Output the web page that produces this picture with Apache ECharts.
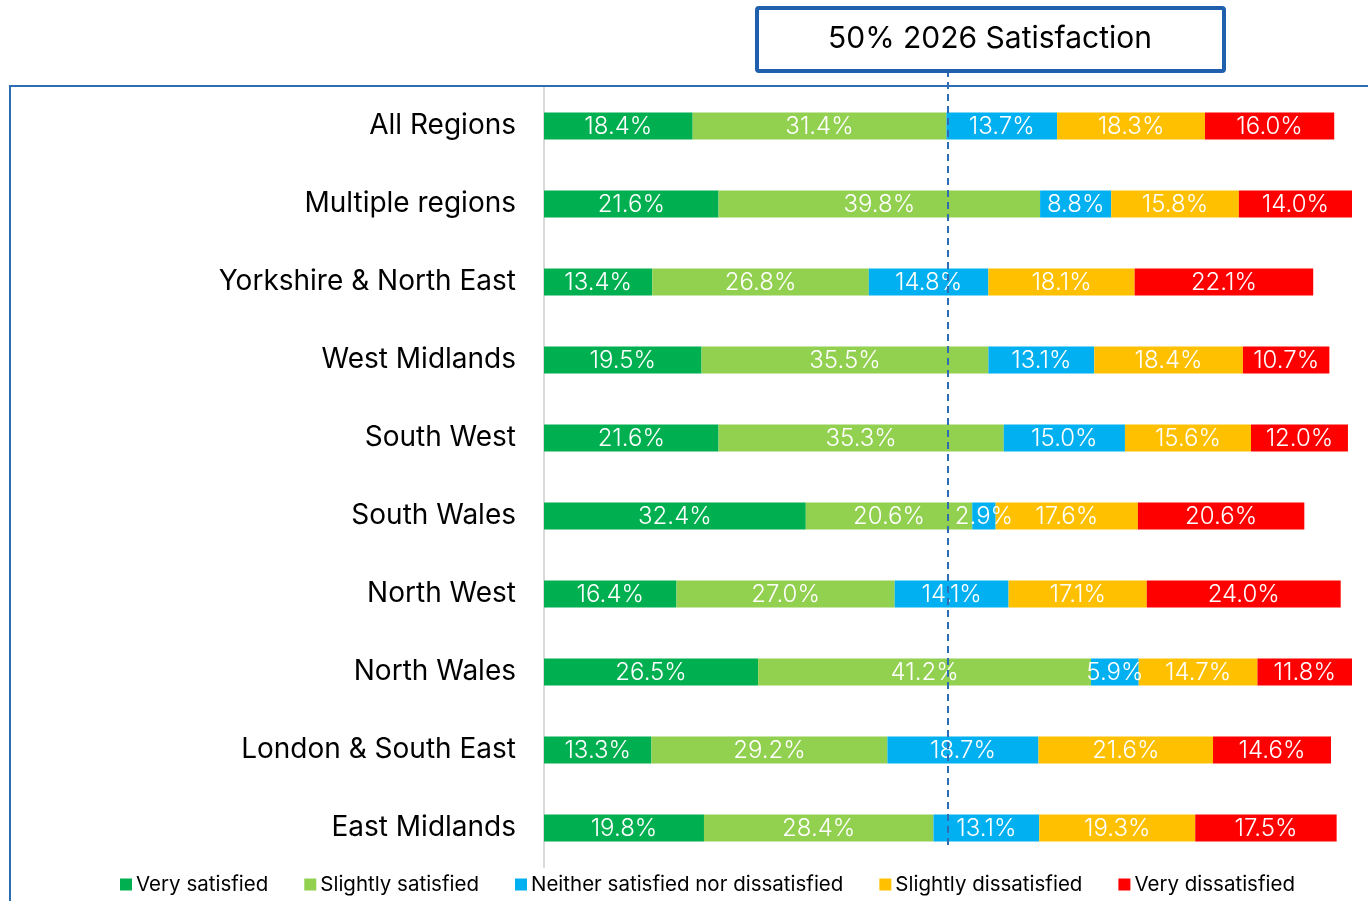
<!DOCTYPE html>
<html>
<head>
<meta charset="utf-8">
<script src="https://cdn.jsdelivr.net/npm/echarts@6/dist/echarts.min.js"></script>
<style>
  html, body { margin: 0; padding: 0; background: #fff; }
  #chart { width: 1368px; height: 901px; }
</style>
</head>
<body>
<div id="chart"></div>
<script>
const regions = ['All Regions', 'Multiple regions', 'Yorkshire & North East', 'West Midlands', 'South West',
  'South Wales', 'North West', 'North Wales', 'London & South East', 'East Midlands'];

const verySatisfied = [18.4, 21.6, 13.4, 19.5, 21.6, 32.4, 16.4, 26.5, 13.3, 19.8];
const slightlySatisfied = [31.4, 39.8, 26.8, 35.5, 35.3, 20.6, 27.0, 41.2, 29.2, 28.4];
const neither = [13.7, 8.8, 14.8, 13.1, 15.0, 2.9, 14.1, 5.9, 18.7, 13.1];
const slightlyDissatisfied = [18.3, 15.8, 18.1, 18.4, 15.6, 17.6, 17.1, 14.7, 21.6, 19.3];
const veryDissatisfied = [16.0, 14.0, 22.1, 10.7, 12.0, 20.6, 24.0, 11.8, 14.6, 17.5];

const targetValue = 50;
const targetTitle = '50% 2026 Satisfaction';

const FONT = 'Inter, "Open Sans", sans-serif';

const chart = echarts.init(document.getElementById('chart'));

function makeSeries(name, data, color) {
  return {
    name: name,
    type: 'bar',
    stack: 'total',
    barWidth: 27,
    data: data,
    itemStyle: { color: color },
    label: {
      show: true,
      position: 'inside',
      color: '#fff',
      fontSize: 24,
      fontWeight: 300,
      fontFamily: FONT,
      offset: [0, 1],
      formatter: p => p.value.toFixed(1) + '%'
    }
  };
}

const option = {
  animation: false,
  grid: { left: 544, top: 87, width: 808, height: 780 },
  legend: {
    left: 115,
    bottom: 1,
    icon: 'rect',
    itemWidth: 12,
    itemHeight: 12,
    itemGap: 36,
    textStyle: { fontSize: 20.5, fontFamily: FONT, color: '#000', padding: [0, 0, 0, -1] }
  },
  xAxis: {
    type: 'value',
    min: 0,
    max: 100,
    show: false
  },
  yAxis: {
    type: 'category',
    data: regions,
    inverse: true,
    axisTick: { show: false },
    axisLine: { lineStyle: { color: '#d9d9d9', width: 2 } },
    axisLabel: { fontSize: 28, fontFamily: FONT, color: '#000', margin: 28, padding: [4, 0, 0, 0] }
  },
  series: [
    makeSeries('Very satisfied', verySatisfied, '#00b050'),
    makeSeries('Slightly satisfied', slightlySatisfied, '#92d050'),
    makeSeries('Neither satisfied nor dissatisfied', neither, '#00b0f0'),
    makeSeries('Slightly dissatisfied', slightlyDissatisfied, '#ffc000'),
    makeSeries('Very dissatisfied', veryDissatisfied, '#ff0000')
  ]
};
chart.setOption(option);

// reference line + title box, placed with the axis scale
const x50 = chart.convertToPixel({ xAxisIndex: 0 }, targetValue);
chart.setOption({
  graphic: [
    {
      type: 'polyline',
      shape: { points: [[10, 901], [10, 86], [1368, 86]] },
      style: { stroke: '#2e6db4', lineWidth: 2, fill: null },
      z: 10
    },
    {
      type: 'line',
      shape: { x1: x50, y1: 70, x2: x50, y2: 848 },
      style: { stroke: '#2e6db4', lineWidth: 2, lineDash: [7, 5] },
      z: 20
    },
    {
      type: 'rect',
      shape: { x: x50 - 191, y: 8, width: 467, height: 63, r: 2 },
      style: { fill: '#fff', stroke: '#1f5fae', lineWidth: 4 },
      z: 30
    },
    {
      type: 'text',
      x: x50 + 42,
      y: 39,
      style: {
        text: targetTitle,
        fontSize: 30,
        fontFamily: FONT,
        fill: '#000',
        align: 'center',
        verticalAlign: 'middle'
      },
      z: 31
    }
  ]
});
</script>
</body>
</html>
